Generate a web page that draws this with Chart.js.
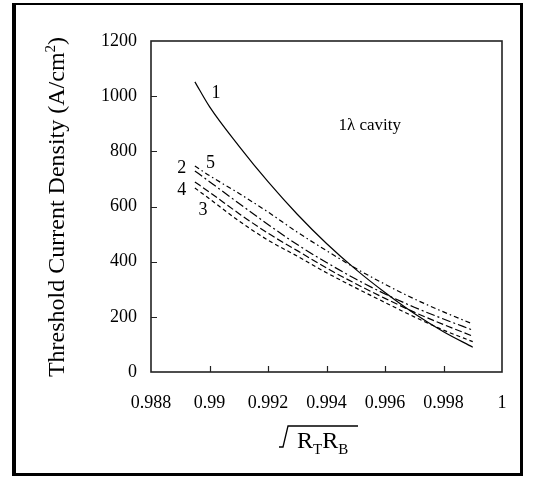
<!DOCTYPE html>
<html>
<head>
<meta charset="utf-8">
<script src="https://cdn.jsdelivr.net/npm/chart.js@4.4.1/dist/chart.umd.min.js"></script>
<style>
  html, body { margin: 0; padding: 0; background: #fff; }
  #wrap { position: relative; width: 533px; height: 477px; }
  #frame {
    position: absolute; left: 12px; top: 3px; width: 504px; height: 468px;
    border-left: 4px solid #000; border-top: 2px solid #000;
    border-right: 3px solid #000; border-bottom: 3px solid #000;
  }
  canvas { position: absolute; left: 0; top: 0; }
</style>
</head>
<body>
<div id="wrap">
  <div id="frame"></div>
  <canvas id="chart" width="533" height="477"></canvas>
</div>
<script>
// sqrt(RT*RB) sample positions
const xVals = [0.9895, 0.990, 0.991, 0.992, 0.993, 0.994, 0.995, 0.996, 0.997, 0.998, 0.999];

// threshold current density (A/cm2)
const curve1 = [1052, 962, 820, 690, 572, 466, 372, 288, 212, 146, 90];
const curve2 = [729, 690, 612, 535, 462, 397, 337, 283, 235, 192, 152];
const curve3 = [667, 628, 548, 478, 420, 360, 305, 252, 200, 152, 110];
const curve4 = [689, 652, 575, 503, 440, 377, 320, 267, 217, 172, 130];
const curve5 = [747, 712, 648, 580, 507, 440, 376, 318, 265, 218, 174];

const xTicks = [0.988, 0.99, 0.992, 0.994, 0.996, 0.998, 1];
const yTicks = [0, 200, 400, 600, 800, 1000, 1200];

// curve labels as [text, x, y]
const curveLabels = [
    ['1', 0.99022, 1012],
    ['2', 0.98905, 740],
    ['5', 0.99003, 758],
    ['4', 0.98905, 660],
    ['3', 0.98978, 587]
];

const FONT = '"Liberation Serif", "Times New Roman", serif';

function toPoints(ys) {
    return ys.map((y, i) => ({ x: xVals[i], y: y }));
}

function line(ys, dash) {
    return {
        data: toPoints(ys),
        borderColor: '#000',
        borderWidth: 1.2,
        borderDash: dash,
        pointRadius: 0,
        fill: false,
        cubicInterpolationMode: 'monotone'
    };
}

// box, inward ticks, labels and axis titles
const decorations = {
    id: 'decorations',
    afterDraw(chart) {
        const ctx = chart.ctx;
        const a = chart.chartArea;
        const xs = chart.scales.x, ys = chart.scales.y;
        ctx.save();

        ctx.strokeStyle = '#222';
        ctx.lineWidth = 1.6;
        ctx.strokeRect(a.left, a.top, a.right - a.left, a.bottom - a.top);

        ctx.lineWidth = 1.2;
        ctx.beginPath();
        xTicks.slice(1, -1).forEach(v => {
            const px = Math.round(xs.getPixelForValue(v)) + 0.5;
            ctx.moveTo(px, a.bottom);
            ctx.lineTo(px, a.bottom - 6);
        });
        yTicks.slice(1, -1).forEach(v => {
            const py = Math.round(ys.getPixelForValue(v)) + 0.5;
            ctx.moveTo(a.left, py);
            ctx.lineTo(a.left + 6, py);
        });
        ctx.stroke();

        ctx.fillStyle = '#000';
        ctx.font = '18px ' + FONT;
        ctx.textAlign = 'center';
        ctx.textBaseline = 'middle';
        curveLabels.forEach(([t, x, y]) => {
            ctx.fillText(t, xs.getPixelForValue(x), ys.getPixelForValue(y));
        });
        ctx.font = '17px ' + FONT;
        ctx.fillText('1\u03BB cavity', xs.getPixelForValue(0.99548), ys.getPixelForValue(892));

        // y title with superscript
        ctx.save();
        ctx.translate(58, 207);
        ctx.rotate(-Math.PI / 2);
        ctx.textAlign = 'left';
        ctx.textBaseline = 'middle';
        const big = '24px ' + FONT, sup = '15px ' + FONT;
        const p1 = 'Threshold Current Density (A/cm', p2 = '2', p3 = ')';
        ctx.font = big; const w1 = ctx.measureText(p1).width, w3 = ctx.measureText(p3).width;
        ctx.font = sup; const w2 = ctx.measureText(p2).width;
        let x0 = -(w1 + w2 + w3) / 2;
        ctx.font = big; ctx.fillText(p1, x0, 0);
        ctx.font = sup; ctx.fillText(p2, x0 + w1, -7);
        ctx.font = big; ctx.fillText(p3, x0 + w1 + w2, 0);
        ctx.restore();

        // x title: sqrt(RT RB)
        ctx.lineWidth = 1.3;
        ctx.strokeStyle = '#000';
        ctx.beginPath();
        ctx.moveTo(279, 447);
        ctx.lineTo(283, 447);
        ctx.lineTo(288, 426);
        ctx.lineTo(358, 426);
        ctx.stroke();
        ctx.textAlign = 'left';
        ctx.textBaseline = 'alphabetic';
        let tx = 297;
        [['R', 'T'], ['R', 'B']].forEach(([m, s]) => {
            ctx.font = '24px ' + FONT;
            ctx.fillText(m, tx, 448);
            tx += ctx.measureText(m).width;
            ctx.font = '15px ' + FONT;
            ctx.fillText(s, tx, 454);
            tx += ctx.measureText(s).width;
        });

        ctx.restore();
    }
};

new Chart(document.getElementById('chart'), {
    type: 'line',
    data: {
        datasets: [
            line(curve1, []),
            line(curve2, [9, 3, 2, 3]),
            line(curve3, [4, 3]),
            line(curve4, [7, 3]),
            line(curve5, [5, 3, 1.5, 3])
        ]
    },
    options: {
        responsive: false,
        animation: false,
        events: [],
        layout: { padding: { left: 0, top: 41, right: 31, bottom: 0 } },
        plugins: { legend: { display: false }, tooltip: { enabled: false } },
        scales: {
            x: {
                type: 'linear',
                min: 0.988,
                max: 1,
                afterBuildTicks: s => { s.ticks = xTicks.map(v => ({ value: v })); },
                afterFit: s => { s.height = 105; },
                grid: { display: false, drawTicks: false },
                border: { display: false },
                ticks: {
                    color: '#000',
                    padding: 20,
                    maxRotation: 0,
                    font: { family: FONT, size: 18 },
                    callback: v => String(+v.toFixed(3))
                }
            },
            y: {
                min: 0,
                max: 1200,
                afterBuildTicks: s => { s.ticks = yTicks.map(v => ({ value: v })); },
                afterFit: s => { s.width = 151; },
                grid: { display: false, drawTicks: false },
                border: { display: false },
                ticks: {
                    color: '#000',
                    padding: 14,
                    font: { family: FONT, size: 18 },
                    callback: v => String(v)
                }
            }
        }
    },
    plugins: [decorations]
});
</script>
</body>
</html>
